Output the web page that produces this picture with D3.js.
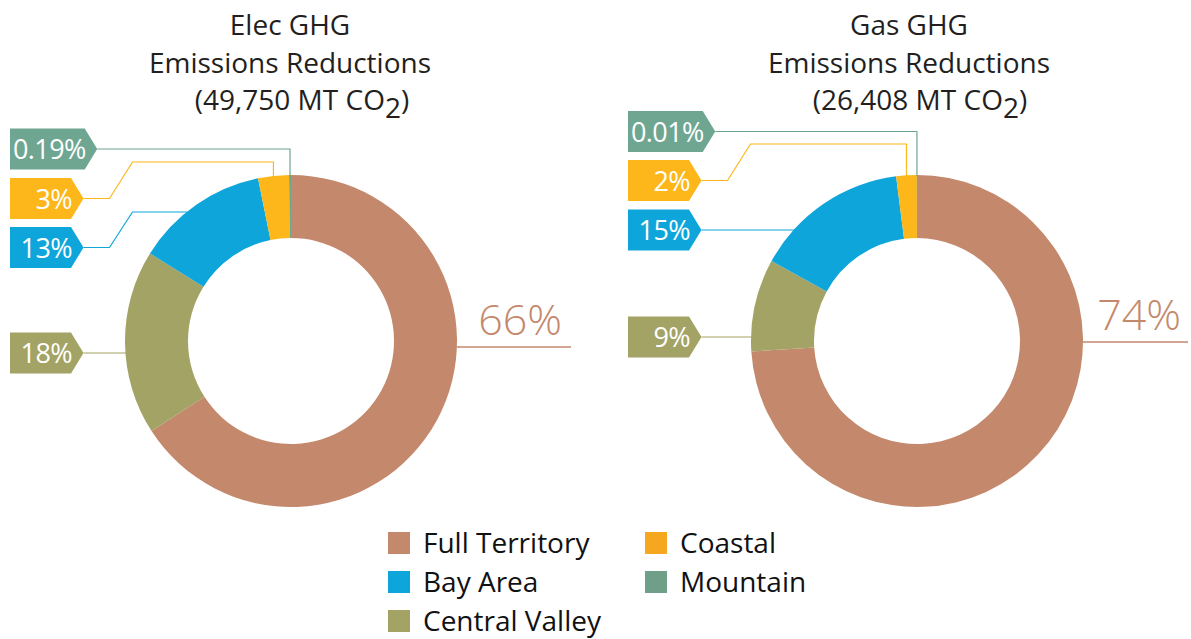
<!DOCTYPE html>
<html>
<head>
<meta charset="utf-8">
<script src="https://cdn.jsdelivr.net/npm/d3@7"></script>
<style>
  body { margin: 0; background: #fff; }
  svg text { font-family: "Open Sans", "Noto Sans", sans-serif; }
</style>
</head>
<body>
<div id="chart"></div>
<script>
// data
var regions = ["Full Territory", "Central Valley", "Bay Area", "Coastal", "Mountain"];
var elecShares = [66, 18, 13, 3, 0.19];
var gasShares = [74, 9, 15, 2, 0.01];
var elecLabels = ["66%", "18%", "13%", "3%", "0.19%"];
var gasLabels = ["74%", "9%", "15%", "2%", "0.01%"];
var legendCols = [["Full Territory", "Bay Area", "Central Valley"], ["Coastal", "Mountain"]];

var colors = {
  "Full Territory": "#c4896c",
  "Central Valley": "#a3a365",
  "Bay Area": "#0ea5db",
  "Coastal": "#fdb71a",
  "Mountain": "#6fa692"
};
var legendColors = {
  "Full Territory": "#c4896c",
  "Central Valley": "#a3a365",
  "Bay Area": "#0ea5db",
  "Coastal": "#f5a81f",
  "Mountain": "#6f9e89"
};

var svgWidth = 1191, svgHeight = 639;
var outerR = 166, innerR = 103;

var svg = d3.select("#chart").append("svg")
  .attr("width", svgWidth)
  .attr("height", svgHeight);

var charts = [
  {
    title: ["Elec GHG", "Emissions Reductions", "(49,750 MT CO"],
    titleX: 290, subX: 302,
    cx: 291, cy: 341,
    shares: elecShares, labels: elecLabels,
    tagX: 10,
    bigY: 347, bigX: 562, lineEnd: 571,
    // tag centre, y of the run into the ring, and whether it drops from above
    tags: {
      "Mountain": { y: 149, run: 149, drop: true },
      "Coastal": { y: 198.5, run: 162, drop: true },
      "Bay Area": { y: 247.5, run: 212, drop: false },
      "Central Valley": { y: 353, run: 353, drop: false }
    }
  },
  {
    title: ["Gas GHG", "Emissions Reductions", "(26,408 MT CO"],
    titleX: 909, subX: 920,
    cx: 917, cy: 341,
    shares: gasShares, labels: gasLabels,
    tagX: 628,
    bigY: 342, bigX: 1181, lineEnd: 1188,
    tags: {
      "Mountain": { y: 131.5, run: 131.5, drop: true },
      "Coastal": { y: 180.5, run: 144, drop: true },
      "Bay Area": { y: 230, run: 230, drop: false },
      "Central Valley": { y: 337, run: 337, drop: false }
    }
  }
];

var pie = d3.pie().sort(null).value(d => d.value);
var arc = d3.arc().innerRadius(innerR).outerRadius(outerR);

charts.forEach(function (c) {
  var g = svg.append("g");

  // title
  var title = g.append("g").attr("fill", "#231f20").style("font-size", "28px");
  title.append("text").attr("x", c.titleX).attr("y", 35)
    .attr("text-anchor", "middle").text(c.title[0]);
  title.append("text").attr("x", c.titleX).attr("y", 73)
    .attr("text-anchor", "middle").text(c.title[1]);
  var t3 = title.append("text").attr("x", c.subX).attr("y", 110)
    .attr("text-anchor", "middle");
  t3.append("tspan").text(c.title[2]);
  t3.append("tspan").attr("dy", 8).text("2");
  t3.append("tspan").attr("dy", -8).text(")");

  var data = regions.map((r, i) => ({ region: r, value: c.shares[i], label: c.labels[i] }));
  var arcs = pie(data);

  var ring = g.append("g").attr("transform", `translate(${c.cx}, ${c.cy})`);
  ring.selectAll("path")
    .data(arcs)
    .enter()
    .append("path")
    .attr("d", arc)
    .attr("fill", d => colors[d.data.region]);

  // big label for the main slice
  var main = arcs[0];
  g.append("text")
    .attr("x", c.bigX)
    .attr("y", c.bigY - 12)
    .attr("text-anchor", "end")
    .attr("fill", colors[main.data.region])
    .style("font-size", "43px")
    .style("font-weight", 300)
    .text(main.data.label);
  var yOff = c.bigY - c.cy;
  g.append("line")
    .attr("x1", c.cx + Math.sqrt(outerR * outerR - yOff * yOff))
    .attr("x2", c.lineEnd)
    .attr("y1", c.bigY).attr("y2", c.bigY)
    .attr("stroke", colors[main.data.region])
    .attr("stroke-width", 1.5);

  // tags with leader lines
  arcs.slice(1).forEach(function (d) {
    var t = c.tags[d.data.region];
    var col = colors[d.data.region];
    var tag = g.append("g");
    var txt = tag.append("text")
      .attr("y", t.y + 10)
      .attr("text-anchor", "end")
      .attr("fill", "#fff")
      .style("font-size", "27px")
      .style("letter-spacing", "-0.6px")
      .text(d.data.label);
    var tw = txt.node().getComputedTextLength();
    var rectW = Math.max(61, tw + 2);
    var x0 = c.tagX, x1 = c.tagX + rectW, tip = x1 + 12.5;
    var h = 20.5;
    tag.insert("polygon", "text")
      .attr("points", [[x0, t.y - h], [x1, t.y - h], [tip, t.y], [x1, t.y + h], [x0, t.y + h]].map(p => p.join(",")).join(" "))
      .attr("fill", col);
    txt.attr("x", x1 + 1);

    var pts = [[tip, t.y]];
    if (t.run !== t.y) {
      pts.push([tip + 26, t.y]);
      pts.push([tip + 49, t.run]);
    }
    var dy = t.run - c.cy;
    if (t.drop) {
      var mid = (d.startAngle + d.endAngle) / 2;
      var px = c.cx + outerR * Math.sin(mid);
      var py = c.cy - Math.sqrt(outerR * outerR - (px - c.cx) * (px - c.cx));
      pts.push([px, t.run]);
      pts.push([px, py + 1]);
    } else {
      pts.push([c.cx - Math.sqrt(outerR * outerR - dy * dy) + 1, t.run]);
    }
    g.append("path")
      .attr("d", d3.line()(pts))
      .attr("fill", "none")
      .attr("stroke", col)
      .attr("stroke-width", 1.2);
  });
});

// legend
var legend = svg.append("g").style("font-size", "28px");
legendCols.forEach(function (names, ci) {
  var lx = ci === 0 ? 388 : 645;
  names.forEach(function (r, ri) {
    var ly = 543 + ri * 39;
    legend.append("rect")
      .attr("x", lx).attr("y", ly - 11)
      .attr("width", 22).attr("height", 22)
      .attr("fill", legendColors[r]);
    legend.append("text")
      .attr("x", lx + 35).attr("y", ly + 10)
      .attr("fill", "#111")
      .text(r);
  });
});
</script>
</body>
</html>
